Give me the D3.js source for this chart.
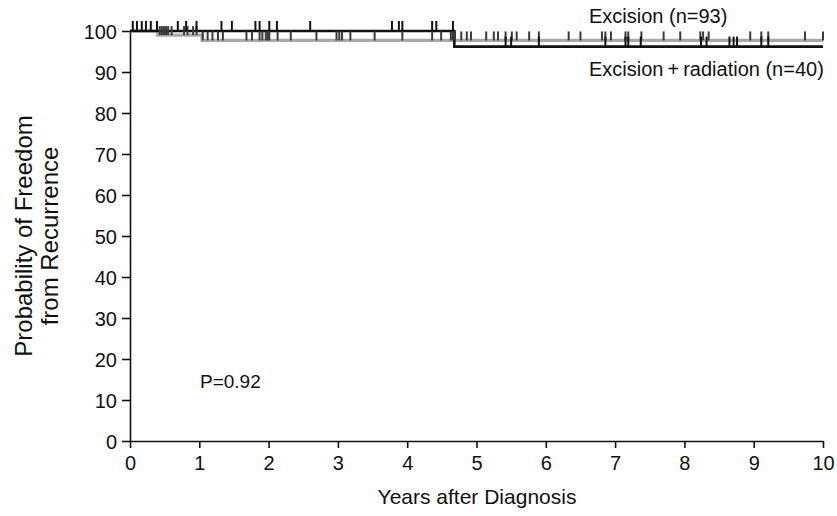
<!DOCTYPE html>
<html>
<head>
<meta charset="utf-8">
<script src="https://cdn.jsdelivr.net/npm/d3@7"></script>
<style>
  body { margin: 0; background: #fff; }
  svg text { font-family: "Liberation Sans", Arial, Helvetica, sans-serif; fill: #111; }
</style>
</head>
<body>
<svg id="chart" width="837" height="516"></svg>
<script>
// step curves: [time in years, probability %]
const excisionSteps = [[0, 100], [0.40, 99.0], [1.04, 97.7], [10, 97.7]];
const radiationSteps = [[0, 100], [4.68, 96.2], [10, 96.2]];

// censored observations (years)
const excisionCensor = [0.43, 0.46, 0.49, 0.52, 0.55, 0.60, 0.78, 0.83, 0.91, 0.96,
    1.05, 1.12, 1.19, 1.27, 1.34, 1.68, 1.76, 1.87, 1.91, 1.96, 1.99, 2.01, 2.13, 2.32,
    2.69, 2.98, 3.02, 3.06, 3.18, 3.53, 3.93, 4.36, 4.49, 4.63, 4.66, 4.69, 4.78, 4.86,
    4.92, 5.14, 5.25, 5.31, 5.42, 5.51, 5.58, 5.76, 5.90, 6.33, 6.50, 6.81, 6.86, 6.94,
    7.15, 7.19, 7.38, 7.70, 7.94, 8.23, 8.27, 8.35, 8.95, 9.11, 9.21, 9.74, 10.0];
const radiationCensor = [0.04, 0.10, 0.17, 0.23, 0.30, 0.39, 0.69, 0.81, 0.96, 1.32,
    1.47, 1.81, 1.87, 2.01, 2.12, 2.60, 3.78, 3.88, 3.93, 4.36, 4.42, 4.66, 5.42, 5.50,
    5.90, 6.86, 7.15, 7.19, 7.37, 8.24, 8.32, 8.65, 8.71, 8.76, 9.11, 9.21];

const xTicks = [0, 1, 2, 3, 4, 5, 6, 7, 8, 9, 10];
const yTicks = [0, 10, 20, 30, 40, 50, 60, 70, 80, 90, 100];

const svg = d3.select("#chart");
const x = d3.scaleLinear().domain([0, 10]).range([130, 823]);
const y = d3.scaleLinear().domain([0, 100]).range([441, 31]);

// axes
const yAxis = svg.append("g").attr("transform", "translate(130,0)")
    .call(d3.axisLeft(y).tickValues(yTicks).tickSize(8).tickSizeOuter(0).tickPadding(5));
const xAxis = svg.append("g").attr("transform", "translate(0,441)")
    .call(d3.axisBottom(x).tickValues(xTicks).tickSize(7).tickSizeOuter(0).tickPadding(8));

[xAxis, yAxis].forEach(g => {
    g.selectAll("path, line").attr("stroke", "#111").attr("stroke-width", 1.6);
    g.selectAll("text").style("font-size", "20px").style("font-family", "Liberation Sans, Arial, sans-serif").attr("fill", "#111");
});
yAxis.selectAll("text").attr("dy", "0.36em");

// value of a step curve at time t
function stepAt(steps, t) {
    let v = steps[0][1];
    for (const s of steps) if (s[0] <= t) v = s[1];
    return v;
}

const line = d3.line().curve(d3.curveStepAfter).x(d => x(d[0])).y(d => y(d[1]));

svg.append("path").datum(excisionSteps)
    .attr("d", line).attr("fill", "none")
    .attr("stroke", "#a9a9a9").attr("stroke-width", 3.2);

svg.append("path").datum(radiationSteps)
    .attr("d", line).attr("fill", "none")
    .attr("stroke", "#111").attr("stroke-width", 2.6);

svg.append("g").selectAll("line").data(excisionCensor).join("line")
    .attr("x1", d => x(d)).attr("x2", d => x(d))
    .attr("y1", d => y(stepAt(excisionSteps, d)))
    .attr("y2", d => y(stepAt(excisionSteps, d)) - 9)
    .attr("stroke", "#3a3a3a").attr("stroke-width", 2);

svg.append("g").selectAll("line").data(radiationCensor).join("line")
    .attr("x1", d => x(d)).attr("x2", d => x(d))
    .attr("y1", d => y(stepAt(radiationSteps, d)))
    .attr("y2", d => y(stepAt(radiationSteps, d)) - 10)
    .attr("stroke", "#111").attr("stroke-width", 2);

// labels
svg.append("text").attr("x", 589).attr("y", 23).style("font-size", "20px")
    .text("Excision (n=93)");
svg.append("text").attr("x", 589).attr("y", 76).style("font-size", "20px")
    .text("Excision\u2009+\u2009radiation (n=40)");
svg.append("text").attr("x", 200).attr("y", 388).style("font-size", "19px")
    .text("P=0.92");

svg.append("text").attr("x", 477).attr("y", 504).attr("text-anchor", "middle")
    .style("font-size", "21px").text("Years after Diagnosis");

const yTitle = svg.append("text").attr("transform", "translate(0,236) rotate(-90)")
    .attr("text-anchor", "middle").style("font-size", "24px");
yTitle.append("tspan").attr("x", 0).attr("y", 32).text("Probability of Freedom");
yTitle.append("tspan").attr("x", 0).attr("y", 58).text("from Recurrence");
</script>
</body>
</html>
